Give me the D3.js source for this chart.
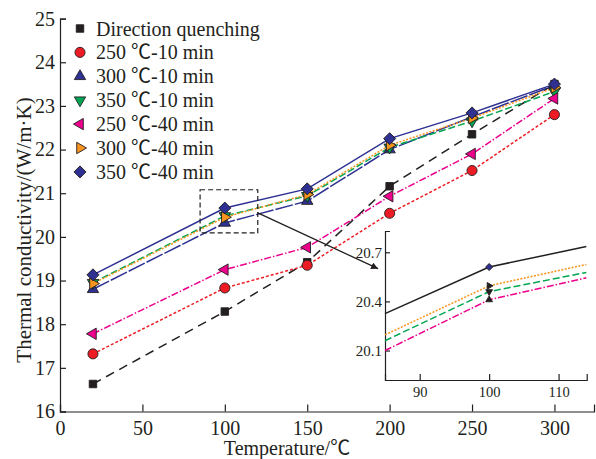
<!DOCTYPE html>
<html>
<head>
<meta charset="utf-8">
<script src="https://cdn.jsdelivr.net/npm/d3@7"></script>
<style>
  body { margin: 0; background: #fff; }
  svg text { font-family: "Liberation Serif", "Times New Roman", "Noto Sans CJK SC", serif; fill: #231f20; }
  .axis path, .axis line { stroke: #231f20; stroke-width: 1.2; }
</style>
</head>
<body>
<svg id="chart" width="596" height="459" font-family="Liberation Serif, serif"></svg>
<script>
'use strict';

// data
const temps = [20, 100, 150, 200, 250, 300];
const directQuench = [16.63, 18.29, 19.42, 21.16, 22.35, 23.50];
const t250m10 = [17.32, 18.83, 19.35, 20.54, 21.52, 22.80];
const t300m10 = [18.80, 20.32, 20.82, 22.00, 22.75, 23.47];
const t350m10 = [18.95, 20.48, 20.94, 22.05, 22.65, 23.33];
const t250m40 = [17.78, 19.25, 19.76, 20.93, 21.90, 23.17];
const t300m40 = [18.93, 20.45, 20.97, 22.10, 22.72, 23.42];
const t350m40 = [19.13, 20.66, 21.10, 22.25, 22.84, 23.50];
const seriesLabels = ['Direction quenching', '250 ℃-10 min', '300 ℃-10 min', '350 ℃-10 min',
                      '250 ℃-40 min', '300 ℃-40 min', '350 ℃-40 min'];
const xTicks = [0, 50, 100, 150, 200, 250, 300];
const yTicks = [16, 17, 18, 19, 20, 21, 22, 23, 24, 25];

// zoomed inset around 100 ℃
const insetTemps = [85, 100, 114];
const inset350m40 = [20.325, 20.61, 20.735];
const inset300m40 = [20.196, 20.495, 20.626];
const inset350m10 = [20.16, 20.46, 20.577];
const inset250m40 = [20.10, 20.41, 20.544];
const insetXTicks = [90, 100, 110];
const insetYTicks = [20.1, 20.4, 20.7];

const navy = '#2e3192', red = '#ed1c24', green = '#00a651', magenta = '#ec008c', orange = '#f7941d', ink = '#231f20';

const series = [
  {values: directQuench, color: ink,     dash: '9,6',       shape: 'square',  fill: ink},
  {values: t250m10,      color: red,     dash: '3,2',       shape: 'circle',  fill: red},
  {values: t300m10,      color: navy,    dash: '18,2',      shape: 'up',      fill: navy},
  {values: t350m10,      color: green,   dash: '7,3',       shape: 'down',    fill: green},
  {values: t250m40,      color: magenta, dash: '7,2,1.5,2', shape: 'left',    fill: magenta},
  {values: t300m40,      color: orange,  dash: '2,1.5',     shape: 'right',   fill: orange},
  {values: t350m40,      color: navy,    dash: null,        shape: 'diamond', fill: navy}
];
series.forEach((s, i) => s.label = seriesLabels[i]);

function symbolPath(shape, scale) {
  const k = scale || 1;
  if (shape === 'square') return {d: d3.symbol(d3.symbolSquare, 56 * k)(), rot: 0};
  if (shape === 'circle') return {d: d3.symbol(d3.symbolCircle, 80 * k)(), rot: 0};
  if (shape === 'diamond') return {d: d3.symbol(d3.symbolSquare, 72 * k)(), rot: 45};
  const rot = {up: 0, down: 180, left: -90, right: 90}[shape];
  return {d: d3.symbol(d3.symbolTriangle, 56 * k)(), rot: rot};
}

function drawMarker(g, shape, cx, cy, fill, scale) {
  const p = symbolPath(shape, scale);
  g.append('path')
    .attr('d', p.d)
    .attr('transform', `translate(${cx},${cy}) rotate(${p.rot})`)
    .attr('fill', fill)
    .attr('stroke', ink)
    .attr('stroke-width', 0.9);
}

const svg = d3.select('#chart');

const x = d3.scaleLinear().domain([0, 324]).range([60, 594]);
const y = d3.scaleLinear().domain([16, 25]).range([411.5, 18.6]);

// axes, ticks pointing inward
svg.append('g')
  .attr('class', 'axis')
  .attr('transform', `translate(0,${y(16)})`)
  .call(d3.axisBottom(x).tickValues(xTicks).tickSizeInner(-7).tickSizeOuter(-7).tickPadding(9))
  .call(g => g.attr('font-family', null))
  .call(g => g.selectAll('text').attr('font-size', 20).attr('fill', ink));

svg.append('g')
  .attr('class', 'axis')
  .attr('transform', `translate(${x(0)},0)`)
  .call(d3.axisLeft(y).tickValues(yTicks).tickSizeInner(-6).tickSizeOuter(-6).tickPadding(5))
  .call(g => g.attr('font-family', null))
  .call(g => g.selectAll('text').attr('font-size', 20).attr('fill', ink));

svg.append('text')
  .attr('x', 287).attr('y', 455)
  .attr('text-anchor', 'middle')
  .attr('font-size', 20)
  .text('Temperature/℃');

svg.append('text')
  .attr('transform', 'translate(31,230) rotate(-90)')
  .attr('text-anchor', 'middle')
  .attr('font-size', 21)
  .text('Thermal conductivity/(W/m·K)');

// lines
const line = d3.line().x((d, i) => x(temps[i])).y(d => y(d));
series.forEach(s => {
  svg.append('path')
    .datum(s.values)
    .attr('d', line)
    .attr('fill', 'none')
    .attr('stroke', s.color)
    .attr('stroke-width', 1.5)
    .attr('stroke-dasharray', s.dash);
});

// markers
series.forEach(s => {
  const g = svg.append('g');
  s.values.forEach((v, i) => drawMarker(g, s.shape, x(temps[i]), y(v), s.fill));
});

// legend
const legend = svg.append('g');
series.forEach((s, i) => {
  const cy = 28.5 + i * 23.9;
  drawMarker(legend, s.shape, 80, cy, s.fill);
  legend.append('text')
    .attr('x', 96).attr('y', cy + 7)
    .attr('font-size', 20)
    .text(s.label);
});

// inset scales
const ix = d3.scaleLinear().domain([85, 114.05]).range([385, 586.7]);
const iy = d3.scaleLinear().domain([19.92, 20.83]).range([380, 231]);

// dashed box around the zoomed region and the arrow to the inset
const boxX = [85, 120], boxY = [20.09, 21.08];
svg.append('rect')
  .attr('x', x(boxX[0])).attr('y', y(boxY[1]))
  .attr('width', x(boxX[1]) - x(boxX[0]))
  .attr('height', y(boxY[0]) - y(boxY[1]))
  .attr('fill', 'none')
  .attr('stroke', ink)
  .attr('stroke-width', 1.2)
  .attr('stroke-dasharray', '5,3');

svg.append('defs').append('marker')
  .attr('id', 'arrow')
  .attr('viewBox', '0 0 10 10')
  .attr('refX', 10).attr('refY', 5)
  .attr('markerWidth', 7).attr('markerHeight', 7)
  .attr('markerUnits', 'userSpaceOnUse')
  .attr('orient', 'auto')
  .append('path')
  .attr('d', 'M0,0L10,5L0,10Z')
  .attr('fill', ink);

svg.append('line')
  .attr('x1', x(120)).attr('y1', y(20.55))
  .attr('x2', ix(84)).attr('y2', iy(20.6))
  .attr('stroke', ink)
  .attr('stroke-width', 1.3)
  .attr('marker-end', 'url(#arrow)');

// inset axes
svg.append('g')
  .attr('class', 'axis')
  .attr('transform', `translate(0,${iy.range()[0]})`)
  .call(d3.axisBottom(ix).tickValues(insetXTicks).tickSizeInner(-6).tickSizeOuter(-6).tickPadding(7))
  .call(g => g.attr('font-family', null))
  .call(g => g.selectAll('text').attr('font-size', 14.5).attr('fill', ink));

svg.append('g')
  .attr('class', 'axis')
  .attr('transform', `translate(${ix.range()[0]},0)`)
  .call(d3.axisLeft(iy).tickValues(insetYTicks).tickFormat(d3.format('.1f')).tickSizeInner(-5).tickSizeOuter(-5).tickPadding(3))
  .call(g => g.attr('font-family', null))
  .call(g => g.selectAll('text').attr('font-size', 15).attr('fill', ink));

const insetSeries = [
  {values: inset350m40, color: ink,     dash: null,        shape: 'diamond', fill: navy},
  {values: inset300m40, color: orange,  dash: '2,1.5',     shape: 'right',   fill: ink},
  {values: inset350m10, color: green,   dash: '7,3',       shape: 'down',    fill: ink},
  {values: inset250m40, color: magenta, dash: '7,2,1.5,2', shape: 'up',      fill: ink}
];
const iline = d3.line().x((d, i) => ix(insetTemps[i])).y(d => iy(d));
insetSeries.forEach(s => {
  svg.append('path')
    .datum(s.values)
    .attr('d', iline)
    .attr('fill', 'none')
    .attr('stroke', s.color)
    .attr('stroke-width', 1.5)
    .attr('stroke-dasharray', s.dash);
});
insetSeries.forEach(s => {
  drawMarker(svg.append('g'), s.shape, ix(insetTemps[1]), iy(s.values[1]), s.fill, 0.35);
});
</script>
</body>
</html>
